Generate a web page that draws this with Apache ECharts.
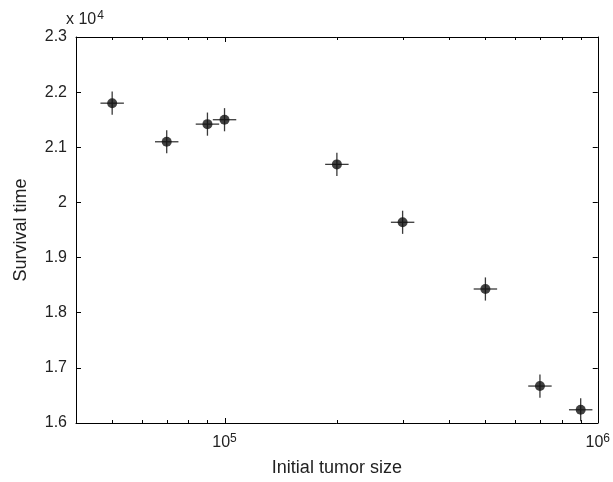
<!DOCTYPE html>
<html>
<head>
<meta charset="utf-8">
<script src="https://cdn.jsdelivr.net/npm/echarts@6/dist/echarts.min.js"></script>
<style>
  html, body { margin: 0; padding: 0; background: #fff; }
  #chart { width: 613px; height: 482px; }
</style>
</head>
<body>
<div id="chart"></div>
<script>
// initial tumor size vs survival time (x 10^4)
const tumorSize = [5e4, 7e4, 9e4, 1e5, 2e5, 3e5, 5e5, 7e5, 9e5]
const survival = [2.18, 2.11, 2.142, 2.15, 2.069, 1.964, 1.843, 1.667, 1.624]
const survivalErr = [0.021, 0.021, 0.021, 0.021, 0.021, 0.021, 0.021, 0.021, 0.021]
const sizeErrFactor = [1.075, 1.075, 1.075, 1.075, 1.075, 1.075, 1.075, 1.075, 1.075]

// x axis tick positions (minor ticks between decades)
const xTicks = [5e4, 6e4, 7e4, 8e4, 9e4, 1e5, 2e5, 3e5, 4e5, 5e5, 6e5, 7e5, 8e5, 9e5, 1e6]
const xMajor = [1e5, 1e6]

const fontFamily = 'Liberation Sans, Arial, sans-serif'
const textColor = '#222'

const chart = echarts.init(document.getElementById('chart'))

function isPow10(v) {
  const l = Math.log10(v)
  return Math.abs(l - Math.round(l)) < 1e-6
}

chart.setOption({
  animation: false,
  backgroundColor: '#fff',
  title: {
    text: '{a|x 10}{s|4}',
    left: 61,
    top: 5,
    textStyle: {
      fontWeight: 'normal',
      fontSize: 16,
      rich: {
        a: { fontSize: 16, fontWeight: 'normal', fontFamily: fontFamily, color: textColor },
        s: { fontSize: 12, fontWeight: 'normal', fontFamily: fontFamily, color: textColor, verticalAlign: 'top', padding: [0, 0, 8, 1] }
      }
    }
  },
  grid: {
    left: 76,
    right: 15,
    top: 37,
    bottom: 57
  },
  xAxis: [{
    type: 'log',
    logBase: 10,
    min: 40000,
    max: 1000000,
    name: 'Initial tumor size',
    nameLocation: 'middle',
    nameGap: 36,
    nameTextStyle: { fontSize: 18, fontFamily: fontFamily, color: textColor },
    axisLine: { lineStyle: { color: '#000', width: 1 } },
    axisTick: { show: false },
    splitLine: { show: false },
    axisLabel: {
      margin: 10,
      showMinLabel: false,
      formatter: function (v) {
        if (!isPow10(v)) return ''
        return '{b|10}{s|' + Math.round(Math.log10(v)) + '}'
      },
      rich: {
        b: { fontSize: 16, fontFamily: fontFamily, color: textColor },
        s: { fontSize: 12, fontFamily: fontFamily, color: textColor, verticalAlign: 'top', padding: [0, 0, 8, 0] }
      }
    }
  }, {
    type: 'log',
    logBase: 10,
    position: 'top',
    min: 40000,
    max: 1000000,
    axisLine: { lineStyle: { color: '#000', width: 1 } },
    axisTick: { show: false },
    axisLabel: { show: false },
    splitLine: { show: false }
  }],
  yAxis: [{
    type: 'value',
    min: 1.6,
    max: 2.3,
    interval: 0.1,
    name: 'Survival time',
    nameLocation: 'middle',
    nameGap: 46,
    nameTextStyle: { fontSize: 18, fontFamily: fontFamily, color: textColor },
    axisLine: { show: true, lineStyle: { color: '#000', width: 1 } },
    axisTick: { show: true, inside: true, length: 5, lineStyle: { color: '#000' } },
    splitLine: { show: false },
    axisLabel: {
      margin: 9,
      fontSize: 16,
      fontFamily: fontFamily,
      color: textColor,
      formatter: function (v) { return String(+v.toFixed(1)) }
    }
  }, {
    type: 'value',
    position: 'right',
    min: 1.6,
    max: 2.3,
    interval: 0.1,
    axisLine: { show: true, lineStyle: { color: '#000', width: 1 } },
    axisTick: { show: true, inside: true, length: 5, lineStyle: { color: '#000' } },
    axisLabel: { show: false },
    splitLine: { show: false }
  }],
  series: [{
    // x ticks on bottom and top edges
    type: 'custom',
    silent: true,
    data: xTicks,
    renderItem: function (params, api) {
      const v = api.value(0)
      const x = Math.round(api.coord([v, 2])[0]) + 0.5
      const cs = params.coordSys
      const len = xMajor.indexOf(v) >= 0 ? 5 : 3
      const style = { stroke: '#000', lineWidth: 1 }
      return {
        type: 'group',
        children: [
          { type: 'line', shape: { x1: x, y1: cs.y + cs.height, x2: x, y2: cs.y + cs.height - len }, style: style },
          { type: 'line', shape: { x1: x, y1: cs.y, x2: x, y2: cs.y + len }, style: style }
        ]
      }
    }
  }, {
    // error bars
    type: 'custom',
    silent: true,
    data: tumorSize.map(function (s, i) { return [s, survival[i]] }),
    renderItem: function (params, api) {
      const i = params.dataIndex
      const s = api.value(0)
      const t = api.value(1)
      const f = sizeErrFactor[i]
      const e = survivalErr[i]
      const left = api.coord([s / f, t])
      const right = api.coord([s * f, t])
      const top = api.coord([s, t + e])
      const bottom = api.coord([s, t - e])
      const style = { stroke: '#3a3a3a', lineWidth: 1.3 }
      return {
        type: 'group',
        children: [
          { type: 'line', shape: { x1: left[0], y1: left[1], x2: right[0], y2: right[1] }, style: style },
          { type: 'line', shape: { x1: top[0], y1: top[1], x2: bottom[0], y2: bottom[1] }, style: style }
        ]
      }
    }
  }, {
    type: 'scatter',
    symbol: 'circle',
    symbolSize: 10,
    itemStyle: { color: '#111' },
    data: tumorSize.map(function (s, i) { return [s, survival[i]] })
  }]
})
</script>
</body>
</html>
